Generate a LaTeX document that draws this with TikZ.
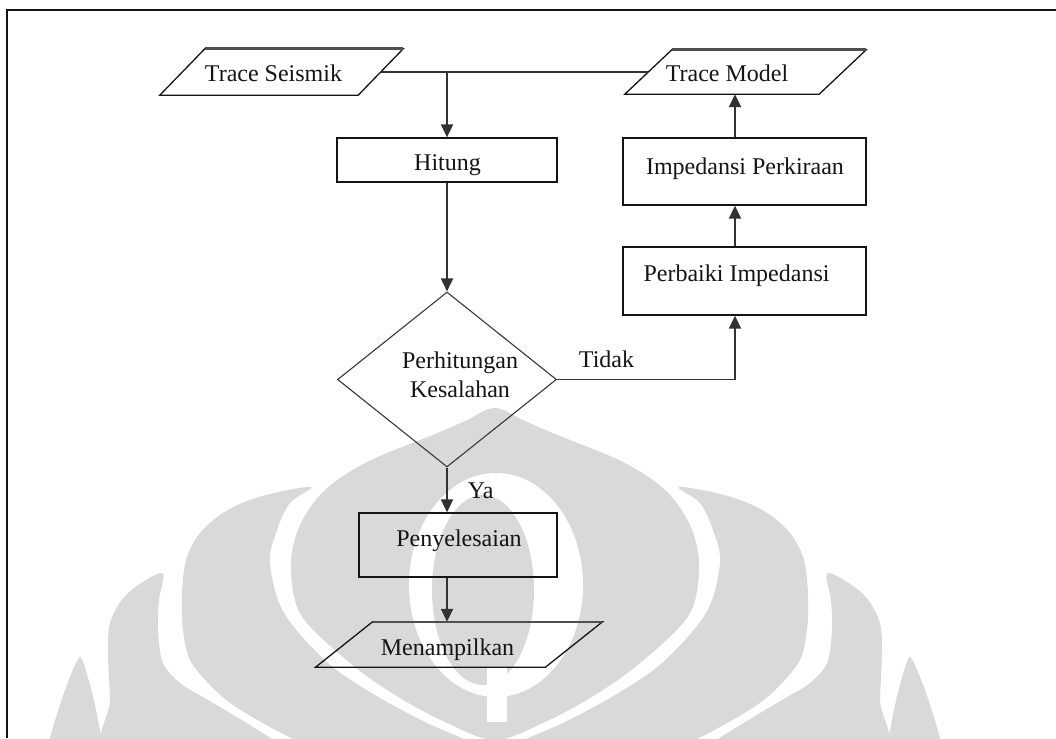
\documentclass[tikz,border=0pt]{standalone}
\usepackage{fontspec}
\setmainfont{Liberation Serif}
\usetikzlibrary{arrows.meta, shapes.geometric, calc}

\definecolor{ink}{RGB}{20,20,20}
\definecolor{wire}{RGB}{50,50,50}
\definecolor{markgray}{RGB}{217,217,217}

\begin{document}
\begin{tikzpicture}[x=1pt, y=-1pt,
  txt/.style={font=\fontsize{24}{29}\selectfont, inner sep=0pt, text=ink},
  every label/.style={txt, text height=16.5pt, text depth=5.5pt},
  procbox/.style={draw=ink, line width=1.3pt, rectangle, inner sep=0pt},
  iobox/.style={rectangle, inner sep=0pt},
  decision/.style={draw=ink!85, line width=1.1pt, diamond, aspect=1.25, inner sep=0pt,
                   minimum width=219pt, minimum height=175pt},
  conn/.style={draw=wire, line width=1.8pt},
  flow/.style={conn, -{Triangle[length=13pt, width=12pt]}},
  iooutline/.style={draw=ink, line width=1.3pt, line join=miter},
  iotop/.style={draw=ink!75, line width=2.6pt},
]
\useasboundingbox (0,0) rectangle (1056,738);

% faint emblem in the background
\begin{scope}
  \clip (8,11) rectangle (1056,738);
  \begin{scope}[shift={(495,0)}]
    % central flame
    \fill[markgray] plot[smooth cycle, tension=0.55] coordinates {
      (0,408) (30,421) (60,434) (128,462) (170,490) (195,525) (204,565)
      (194,615) (145,663) (100,695) (50,722) (0,740)
      (-50,722) (-100,695) (-145,663) (-194,615) (-204,565) (-195,525)
      (-170,490) (-128,462) (-60,434) (-30,421)};
    % inner vase
    \fill[white] (1,585) ellipse [x radius=87, y radius=112];
    \fill[markgray] (-12,590) ellipse [x radius=51, y radius=95];
    \fill[white] (-8,668) rectangle (12,722);
    \foreach \s in {1,-1} {
      \begin{scope}[xscale=\s]
        % second layer
        \fill[markgray] plot[smooth cycle, tension=0.55] coordinates {
          (-184,487) (-233,496) (-269,511) (-295,533) (-309,560) (-313,595)
          (-312,630) (-305,660) (-285,685) (-262,705) (-225,727) (-190,745)
          (-150,765) (-10,765) (-20,745) (-70,722) (-120,695) (-167,663)
          (-211,613) (-225,563) (-218,530) (-205,503)};
        % third layer
        \fill[markgray] plot[smooth cycle, tension=0.55] coordinates {
          (-333,573) (-367,593) (-384,620) (-387,650) (-385,700) (-384,765)
          (-200,765) (-215,745) (-242,727) (-265,713) (-292,697) (-315,683)
          (-332,663) (-337,630) (-336,600)};
        % outer layer
        \fill[markgray] plot[smooth cycle, tension=0.4] coordinates {
          (-415,657) (-430,690) (-445,738) (-448,765) (-393,765) (-397,720)
          (-405,685)};
      \end{scope}
    }
  \end{scope}
\end{scope}

% frame
\draw[ink, line width=2.2pt] (7,738) -- (7,10) -- (1056,10);

% input / output blocks
\node[iobox, minimum width=198pt, minimum height=46pt,
      label={[xshift=-8pt, yshift=-4.5pt]center:Trace Seismik}] (ts) at (281.5,72) {};
\node[iobox, minimum width=194pt, minimum height=44pt,
      label={[xshift=-18.5pt, yshift=-4.5pt]center:Trace Model}] (tm) at (745.5,72) {};
\node[iobox, minimum width=229.5pt, minimum height=45pt,
      label={[xshift=-11.5pt, yshift=-5pt]center:Menampilkan}] (mn) at (459,644.5) {};
\foreach \n/\sl in {ts/22.5, tm/23.5, mn/28.5} {
  \draw[iooutline] ($(\n.north west)+(\sl,0)$) -- ($(\n.north east)+(\sl,0)$)
    -- ($(\n.south east)+(-\sl,0)$) -- ($(\n.south west)+(-\sl,0)$) -- cycle;
  \draw[iotop] ($(\n.north west)+(\sl,0)$) -- ($(\n.north east)+(\sl,0)$);
}

% process blocks
\node[procbox, minimum width=220pt, minimum height=44pt,
      label={[xshift=0.5pt, yshift=-5.5pt]center:Hitung}] (hit) at (447,160) {};
\node[procbox, minimum width=243pt, minimum height=67pt,
      label={[xshift=0.5pt, yshift=2pt]center:Impedansi Perkiraan}] (ip) at (744.5,171.5) {};
\node[procbox, minimum width=243pt, minimum height=68pt,
      label={[xshift=-8pt, yshift=5.5pt]center:Perbaiki Impedansi}] (pb) at (744.5,281) {};
\node[procbox, minimum width=198pt, minimum height=64pt,
      label={[xshift=1pt, yshift=4.5pt]center:Penyelesaian}] (pn) at (458,545) {};

% decision
\node[decision,
      label={[text height=, text depth=, align=center, xshift=13pt, yshift=5pt]center:Perhitungan\\Kesalahan}] (dia) at (447,379.5) {};

\coordinate (turn) at (735,379.5);

% connectors
\draw[conn] (ts.east) -- (tm.west);
\draw[flow] (hit.north |- ts.east) -- (hit.north);
\draw[flow] (hit.south) -- (dia.north);
\draw[flow] (dia.east) -- node[txt, pos=0.118, anchor=base west, yshift=12pt] {Tidak} (turn) -- (turn |- pb.south);
\draw[flow] (turn |- pb.north) -- (turn |- ip.south);
\draw[flow] (turn |- ip.north) -- (turn |- tm.south);
\draw[flow] (dia.south) -- node[txt, pos=0.7, anchor=base west, xshift=20pt] {Ya} (dia.south |- pn.north);
\draw[flow] (dia.south |- pn.south) -- (dia.south |- mn.north);
\end{tikzpicture}
\end{document}
